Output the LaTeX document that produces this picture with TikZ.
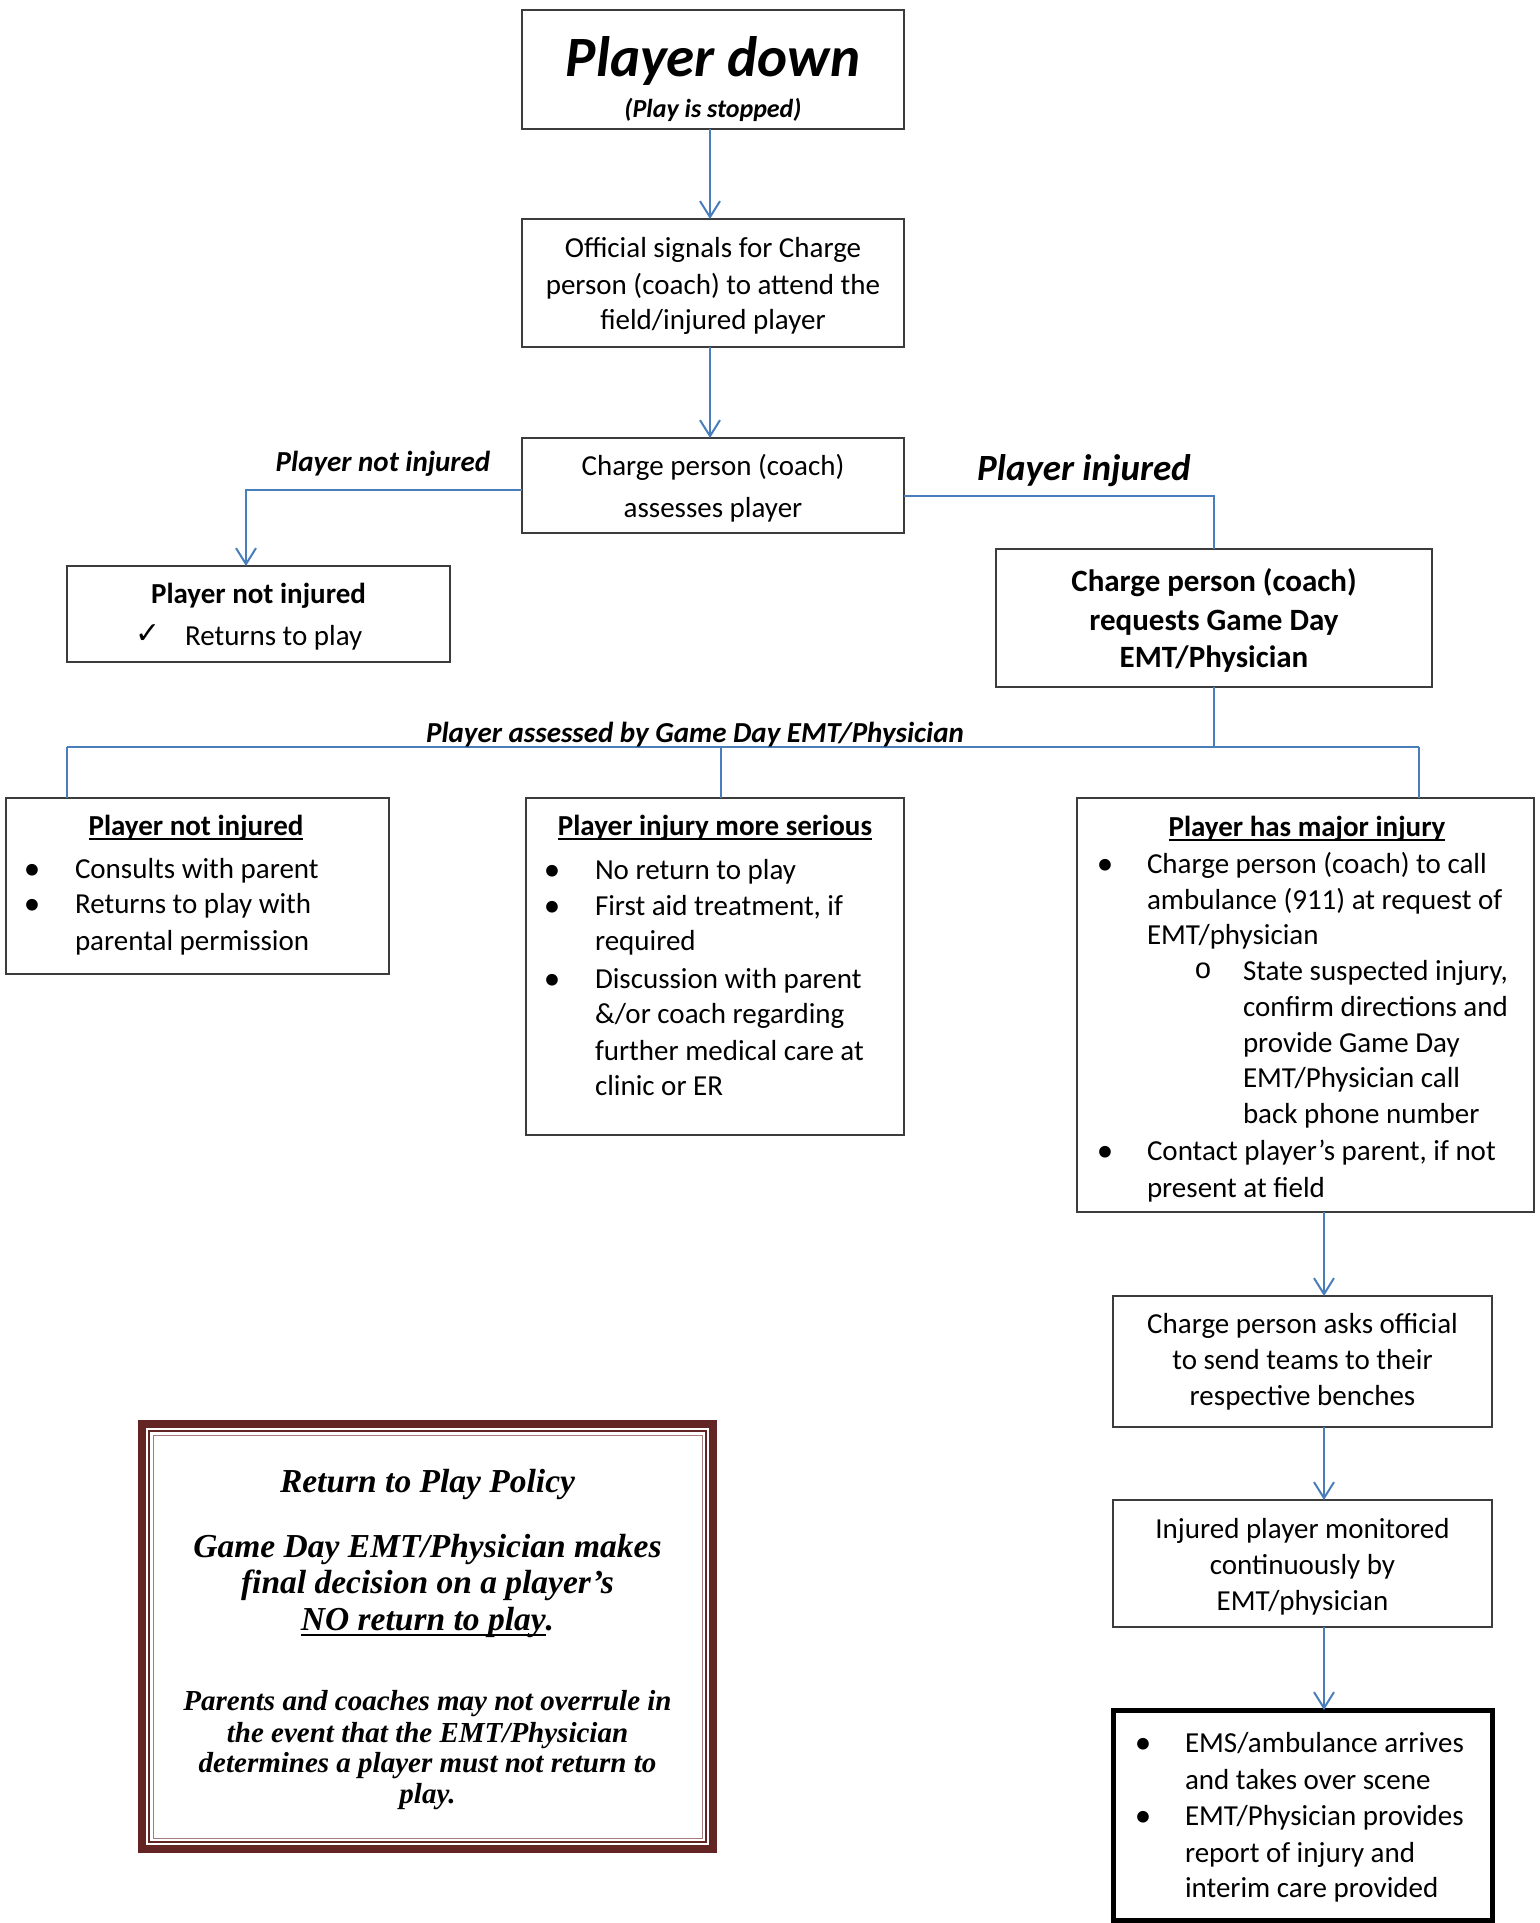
\documentclass[tikz,border=0pt]{standalone}
\usepackage{fontspec}
\setmainfont{Carlito}
\newfontfamily\pfont{Liberation Serif}
\newfontfamily\djv{DejaVu Sans}
\newfontfamily\monof{Liberation Mono}
\usetikzlibrary{arrows.meta}
\definecolor{conn}{RGB}{74,126,187}
\definecolor{bord}{RGB}{60,60,60}
\definecolor{maroonx}{RGB}{99,37,35}
\newcounter{tn}
\newcommand\tx[4][]{\stepcounter{tn}\node[txt,#1] (tx\arabic{tn}) at (#2,#3) {#4};}
\newcommand\myul[1]{\setbox0\hbox{#1}\rlap{\rule[-0.18em]{\wd0}{0.065em}}\box0}
\begin{document}
\begin{tikzpicture}[x=1pt,y=-1pt,
  box/.style={draw=bord,line width=2pt,inner sep=0pt,outer sep=0pt},
  txt/.style={anchor=base,inner sep=0pt,outer sep=0pt,font=\fontsize{29}{35}\selectfont},
  lft/.style={anchor=base west},
  bo/.style={font=\fontsize{29}{35}\selectfont\bfseries},
  bob/.style={font=\fontsize{31}{37}\selectfont\bfseries},
  bi/.style={font=\fontsize{29}{35}\selectfont\bfseries\itshape},
  bibig/.style={font=\fontsize{37}{44}\selectfont\bfseries\itshape},
  huge/.style={font=\fontsize{57}{66}\selectfont\bfseries\itshape},
  small/.style={font=\fontsize{26}{30}\selectfont\bfseries\itshape},
  bul/.style={font=\fontsize{33}{35}\selectfont},
  polbig/.style={font={\pfont\fontsize{33.5}{40}\selectfont\bfseries\itshape}},
  polsm/.style={font={\pfont\fontsize{29}{34}\selectfont\bfseries\itshape}},
  link/.style={draw=conn,line width=2pt},
  arr/.style={link,-{Straight Barb[length=16pt,width=20pt,line width=2pt]}}
]
\useasboundingbox (0,0) rectangle (1540,1923);
% boxes
\node[box,minimum width=382pt,minimum height=119pt] (b1) at (713,69.5) {};
\node[box,minimum width=382pt,minimum height=128pt] (b2) at (713,283) {};
\node[box,minimum width=382pt,minimum height=95pt] (b3) at (713,485.5) {};
\node[box,minimum width=383pt,minimum height=96pt] (bA) at (258.5,614) {};
\node[box,minimum width=436pt,minimum height=138pt] (bB) at (1214,618) {};
\node[box,minimum width=383pt,minimum height=176pt] (bC) at (197.5,886) {};
\node[box,minimum width=378pt,minimum height=337pt] (bD) at (715,966.5) {};
\node[box,minimum width=457pt,minimum height=414pt] (bE) at (1305.5,1005) {};
\node[box,minimum width=379pt,minimum height=131pt] (bF) at (1302.5,1361.5) {};
\node[box,minimum width=379pt,minimum height=127pt] (bG) at (1302.5,1563.5) {};
\node[box,draw=black,line width=5pt,minimum width=379pt,minimum height=210pt] (bH) at (1302.5,1815) {};
% policy frame
\node[draw=maroonx,line width=8pt,inner sep=0pt,outer sep=0pt,minimum width=571pt,minimum height=425pt] (pol) at (427.5,1636.5) {};
\draw[maroonx,line width=2pt] ([shift={(7,7)}]pol.north west) rectangle ([shift={(-7,-7)}]pol.south east);
\draw[maroonx!60,line width=0.7pt] ([shift={(11,11)}]pol.north west) rectangle ([shift={(-11,-11)}]pol.south east);
% connectors
\draw[arr] ([xshift=-3pt]b1.south) -- ([xshift=-3pt]b2.north);
\draw[arr] ([xshift=-3pt]b2.south) -- ([xshift=-3pt]b3.north);
\draw[arr] ([yshift=-4.5pt]b3.west) -| ([xshift=-12.5pt]bA.north);
\draw[link] ([yshift=-10.5pt]b3.east) -| (bB.north);
\coordinate (hub) at (1214,747);
\coordinate (hL) at (67,747);
\coordinate (hR) at (1419,747);
\draw[link] (bB.south) -- (hub);
\draw[link] (hL) -- (hR);
\draw[link] (hL) -- (hL |- bC.north);
\draw[link] ([xshift=6pt]bD.north |- hL) -- ([xshift=6pt]bD.north);
\draw[link] (hR) -- (hR |- bE.north);
\draw[arr] ([xshift=21.5pt]bF.north |- bE.south) -- ([xshift=21.5pt]bF.north);
\draw[arr] ([xshift=21.5pt]bF.south) -- ([xshift=21.5pt]bG.north);
\draw[arr] ([xshift=21.5pt]bG.south) -- ([xshift=21.5pt]bH.north);
% texts: top
\tx[huge]{713}{76}{Player down}
\tx[small]{713}{117}{(Play is stopped)}
\tx{713}{257}{Official signals for Charge}
\tx{713}{294}{person (coach) to attend the}
\tx{713}{329}{field/injured player}
\tx{713}{475}{Charge person (coach)}
\tx{713}{517}{assesses player}
\tx[bi]{383}{471}{Player not injured}
\tx[bibig]{1084}{480}{Player injured}
\tx[bo]{258.5}{603}{Player not injured}
\tx[font=\djv\fontsize{30}{34}\selectfont]{148}{643}{✓}
\tx[lft]{185}{645}{Returns to play}
\tx[bob]{1214}{591}{Charge person (coach)}
\tx[bob]{1214}{630}{requests Game Day}
\tx[bob]{1214}{667}{EMT/Physician}
\tx[bi]{695}{742}{Player assessed by Game Day EMT/Physician}
% box C
\tx[bo]{196}{835}{\myul{Player not injured}}
\tx[bul]{32}{879}{•}
\tx[bul]{32}{914}{•}
\tx[lft]{75}{878}{Consults with parent}
\tx[lft]{75}{913}{Returns to play with}
\tx[lft]{75}{950}{parental permission}
% box D
\tx[bo]{715}{835}{\myul{Player injury more serious}}
\tx[bul]{552}{880}{•}
\tx[bul]{552}{916}{•}
\tx[bul]{552}{989}{•}
\tx[lft]{595}{879}{No return to play}
\tx[lft]{595}{915}{First aid treatment, if}
\tx[lft]{595}{950}{required}
\tx[lft]{595}{988}{Discussion with parent}
\tx[lft]{595}{1023}{\&/or coach regarding}
\tx[lft]{595}{1060}{further medical care at}
\tx[lft]{595}{1095}{clinic or ER}
% box E
\tx[bo]{1307}{836}{\myul{Player has major injury}}
\tx[bul]{1105}{874}{•}
\tx[bul]{1105}{1161}{•}
\tx[lft]{1147}{873}{Charge person (coach) to call}
\tx[lft]{1147}{909}{ambulance (911) at request of}
\tx[lft]{1147}{944}{EMT/physician}
\tx[font=\monof\fontsize{29}{35}\selectfont]{1203}{978}{o}
\tx[lft]{1243}{980}{State suspected injury,}
\tx[lft]{1243}{1016}{confirm directions and}
\tx[lft]{1243}{1052}{provide Game Day}
\tx[lft]{1243}{1087}{EMT/Physician call}
\tx[lft]{1243}{1123}{back phone number}
\tx[lft]{1147}{1160}{Contact player’s parent, if not}
\tx[lft]{1147}{1197}{present at field}
% box F, G
\tx{1302.5}{1333}{Charge person asks official}
\tx{1302.5}{1369}{to send teams to their}
\tx{1302.5}{1405}{respective benches}
\tx{1302.5}{1538}{Injured player monitored}
\tx{1302.5}{1574}{continuously by}
\tx{1302.5}{1610}{EMT/physician}
% box H
\tx[bul]{1143}{1753}{•}
\tx[bul]{1143}{1826}{•}
\tx[lft]{1185}{1752}{EMS/ambulance arrives}
\tx[lft]{1185}{1789}{and takes over scene}
\tx[lft]{1185}{1825}{EMT/Physician provides}
\tx[lft]{1185}{1862}{report of injury and}
\tx[lft]{1185}{1897}{interim care provided}
% policy
\tx[polbig]{427.5}{1492}{Return to Play Policy}
\tx[polbig]{427.5}{1557}{Game Day EMT/Physician makes}
\tx[polbig]{427.5}{1593}{final decision on a player’s}
\tx[polbig]{427.5}{1630}{\myul{NO return to play}.}
\tx[polsm]{427.5}{1710}{Parents and coaches may not overrule in}
\tx[polsm]{427.5}{1742}{the event that the EMT/Physician}
\tx[polsm]{427.5}{1772}{determines a player must not return to}
\tx[polsm]{427.5}{1803}{play.}
\end{tikzpicture}
\end{document}
